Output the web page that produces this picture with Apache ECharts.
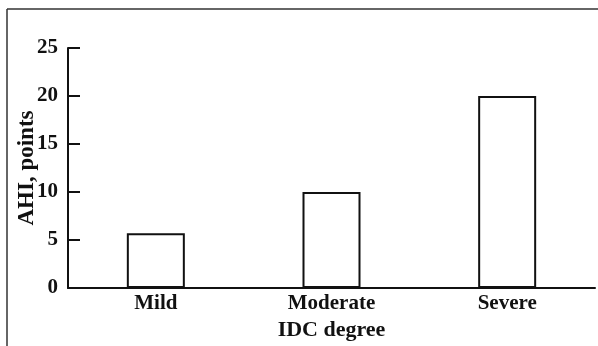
<!DOCTYPE html>
<html>
<head>
<meta charset="utf-8">
<script src="https://cdn.jsdelivr.net/npm/echarts@6/dist/echarts.min.js"></script>
<style>
  html, body { margin: 0; padding: 0; background: #fff; }
  #chart { width: 598px; height: 346px; }
</style>
</head>
<body>
<div id="chart"></div>
<script>
const categories = ['Mild', 'Moderate', 'Severe'];
const ahiValues = [5.7, 10, 20];
const yMin = 0;
const yMax = 25;
const yStep = 5;

const FONT = 'Liberation Serif';
const INK = '#111';

const chart = echarts.init(document.getElementById('chart'), null, { renderer: 'canvas' });

chart.setOption({
  animation: false,
  backgroundColor: '#fff',
  grid: { left: 68, right: 3, top: 48, bottom: 58, outerBoundsMode: 'none' },
  // frame lines at the top and left edge of the figure
  graphic: [
    { type: 'line', shape: { x1: 7, y1: 9, x2: 598, y2: 9 }, style: { stroke: '#333', lineWidth: 1.5 } },
    { type: 'line', shape: { x1: 7, y1: 9, x2: 7, y2: 346 }, style: { stroke: '#333', lineWidth: 1.5 } },
  ],
  xAxis: {
    type: 'category',
    data: categories,
    name: 'IDC degree',
    nameLocation: 'middle',
    nameGap: 31,
    nameMoveOverlap: false,
    nameTextStyle: { fontFamily: FONT, fontWeight: 'bold', fontSize: 22, color: INK },
    axisLine: { lineStyle: { color: INK, width: 2 } },
    axisTick: { inside: true, length: 5, lineStyle: { color: INK, width: 2 } },
    axisLabel: { fontFamily: FONT, fontWeight: 'bold', fontSize: 21, color: INK, margin: 5 },
  },
  yAxis: {
    type: 'value',
    min: yMin,
    max: yMax,
    interval: yStep,
    name: 'AHI, points',
    nameLocation: 'middle',
    nameGap: 29,
    nameMoveOverlap: false,
    nameTextStyle: { fontFamily: FONT, fontWeight: 'bold', fontSize: 23, color: INK },
    axisLine: { show: true, lineStyle: { color: INK, width: 2 } },
    axisTick: { show: true, inside: true, length: 12, lineStyle: { color: INK, width: 2 } },
    axisLabel: { fontFamily: FONT, fontWeight: 'bold', fontSize: 21, color: INK, margin: 10 },
    splitLine: { show: false },
  },
  series: [
    {
      type: 'bar',
      data: ahiValues,
      barWidth: 58,
      itemStyle: { color: '#fff', borderColor: INK, borderWidth: 2 },
    },
  ],
});
</script>
</body>
</html>
